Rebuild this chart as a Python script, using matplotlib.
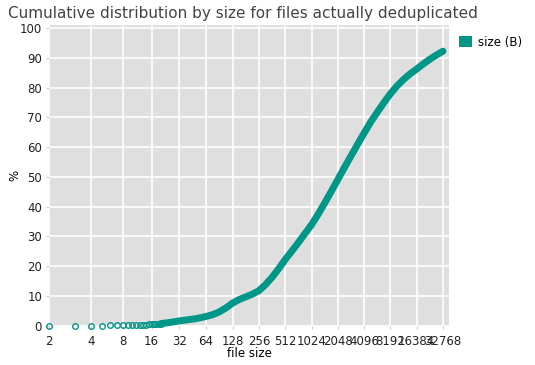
import numpy as np
import matplotlib
matplotlib.use('Agg')
import matplotlib.pyplot as plt
from matplotlib.patches import Patch

teal = '#009688'

# small sizes, one point per byte count
low_sizes = [2, 3, 4, 5, 6, 7, 8, 9, 10, 11, 12, 13, 14, 15, 16, 17, 18, 19, 20]
low_pct = [0, 0.02, 0.04, 0.06, 0.08, 0.1, 0.13, 0.16, 0.2, 0.24, 0.28, 0.33, 0.38, 0.44, 0.5,
           0.55, 0.6, 0.65, 0.7]

# rest of the curve
sizes = [20, 24, 28, 32, 40, 48, 56, 64, 76, 90, 108, 128, 152, 181, 215, 256, 304, 362,
         431, 512, 609, 724, 861, 1024, 1218, 1448, 1722, 2048, 2435, 2896, 3444, 4096,
         4871, 5793, 6889, 8192, 9742, 11585, 13777, 16384, 19484, 23170, 27554, 32768]
pct = [0.7, 1.0, 1.3, 1.6, 2.0, 2.3, 2.7, 3.1, 3.7, 4.6, 6.0, 7.6, 8.8, 9.7, 10.6, 11.8,
       13.8, 16.3, 19.2, 22.3, 25.1, 28.0, 31.0, 34.0, 37.5, 41.3, 45.2, 49.2, 53.2, 57.1,
       61.0, 64.8, 68.5, 71.8, 75.0, 78.0, 80.6, 82.8, 84.7, 86.3, 88.0, 89.6, 91.0, 92.3]

xticks = [2 ** i for i in range(1, 16)]

fig = plt.figure(figsize=(5.35, 3.65), dpi=100)
ax = fig.add_axes([0.0916, 0.1077, 0.7477, 0.823])
ax.set_facecolor('#dfdfdf')

fwd = lambda x: np.log2(np.clip(np.asarray(x, dtype=float) - 1, 1e-9, None))
inv = lambda y: 2.0 ** np.asarray(y) + 1
ax.set_xscale('function', functions=(fwd, inv))

ax.plot(sizes, pct, color=teal, lw=5, solid_capstyle='round', solid_joinstyle='round',
        clip_on=False, zorder=3)
ax.plot(low_sizes, low_pct, linestyle='none', marker='o', markersize=4, mfc='none',
        mec=teal, mew=1, clip_on=False, zorder=4)

ax.set_xlim(2, 1 + 2 ** 15.23)
ax.set_ylim(0, 101)
ax.set_xticks(xticks)
ax.set_xticklabels([str(t) for t in xticks])
ax.minorticks_off()
ax.set_yticks(range(0, 101, 10))
ax.grid(True, color='white', lw=1.2)
ax.set_axisbelow(True)
for s in ax.spines.values():
    s.set_visible(False)
ax.tick_params(labelsize=8.5, length=2, color='#cccccc', labelcolor='#222222')
ax.tick_params(axis='x', pad=5)
ax.tick_params(axis='y', pad=3)

ax.set_xlabel('file size', fontsize=8.5, labelpad=-1)
ax.set_ylabel('%', fontsize=8.5, labelpad=-1)

fig.text(0.015, 0.952, 'Cumulative distribution by size for files actually deduplicated',
         fontsize=11, color='#444444', ha='left', va='baseline')

handle = Patch(facecolor=teal, edgecolor='none')
fig.legend([handle], ['size (B)'], loc='upper left', bbox_to_anchor=(0.849, 0.915),
           frameon=False, fontsize=8.5, handlelength=1.1, handleheight=1.1,
           handletextpad=0.5, borderaxespad=0)

fig.savefig('out.png', dpi=100)
